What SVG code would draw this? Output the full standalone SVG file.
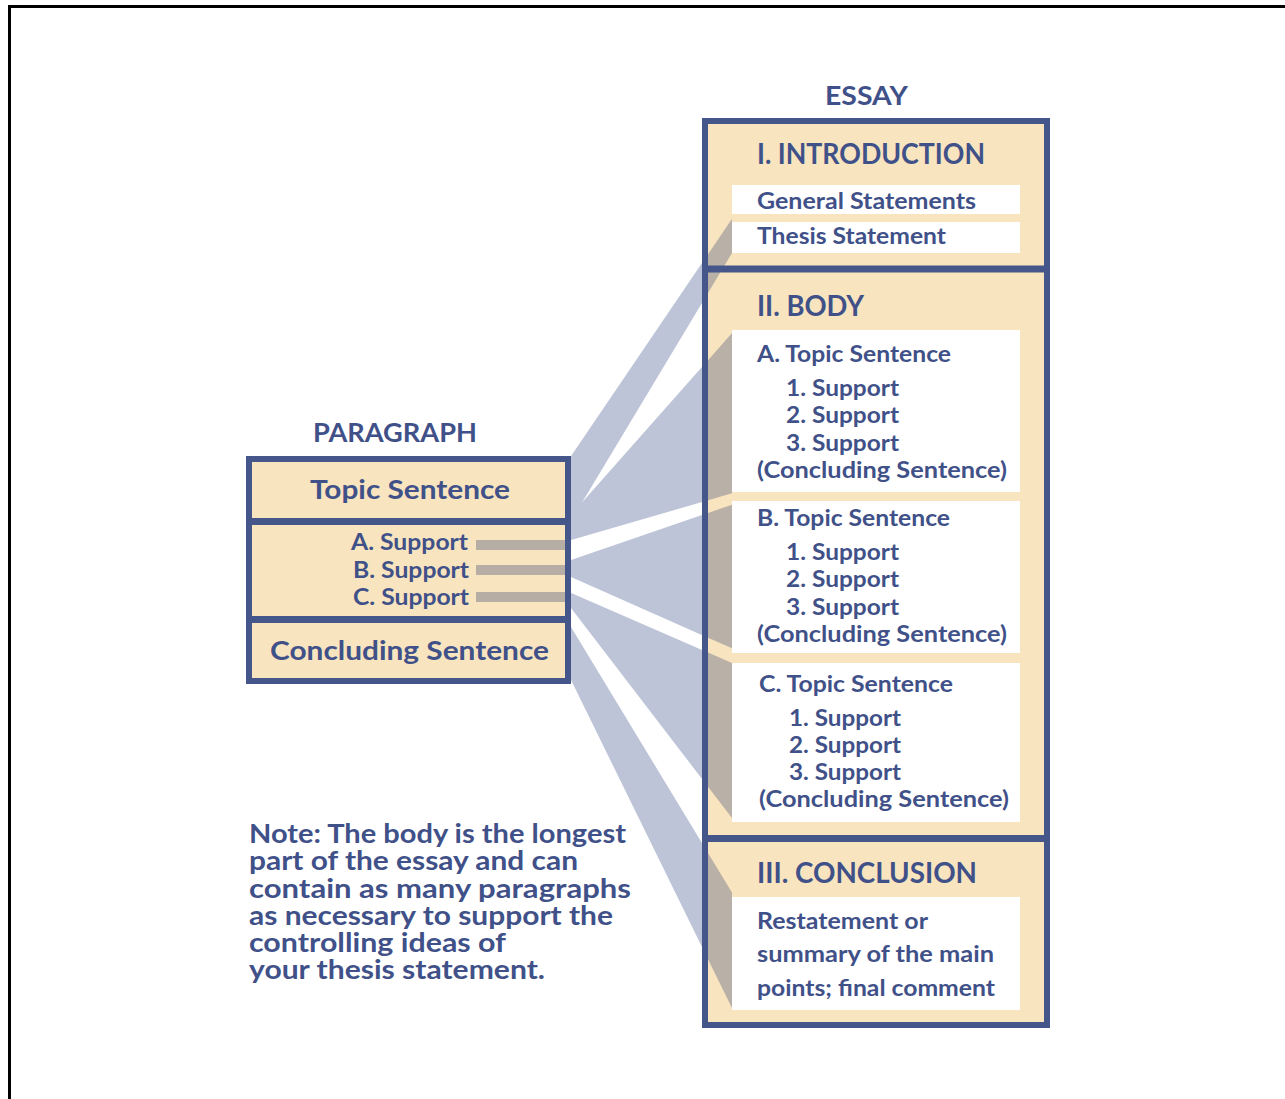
<svg xmlns="http://www.w3.org/2000/svg" xmlns:xlink="http://www.w3.org/1999/xlink" width="1285" height="1099" viewBox="0 0 1285 1099">
<defs>
<style>
text { font-family: Lato, "Open Sans", "Liberation Sans", sans-serif; font-weight: 700; fill: #3f5188; }
.h { font-size: 28px; }
.t { font-size: 22px; }
.n { font-size: 26px; }
.beige { fill: #f8e4bf; }
.white { fill: #ffffff; }
.bar { fill: #b6aea4; }
.border { fill: none; stroke: #44568a; stroke-width: 6; }
.div { stroke: #44568a; stroke-width: 7; }
</style>
<polygon id="fan" points="566,463.4 740,207 740,1024.4 566,669.8"/>
<g id="gaps">
<polygon points="582.2,502.3 740,239.8 740,324"/>
<polygon points="566,541.5 740,491 740,501.9 566,561.7"/>
<polygon points="566,574.8 740,651.9 740,666.5 566,590.8"/>
<polygon points="566,601.5 740,828.5 740,905.7 566,618.8"/>
</g>
<clipPath id="margin"><rect x="708" y="124" width="24" height="898"/></clipPath>
</defs>
<rect width="1285" height="1099" fill="#ffffff"/>
<path d="M9.5 1099 V6.5 H1285" fill="none" stroke="#000" stroke-width="3"/>

<g id="connectors">
<use xlink:href="#fan" fill="#bdc4d7"/>
<use xlink:href="#gaps" fill="#ffffff"/>
</g>

<g id="paragraph">
<text x="313" y="442" style="font-size:27px" textLength="164" lengthAdjust="spacingAndGlyphs">PARAGRAPH</text>
<rect x="249" y="459" width="319" height="222" class="beige"/>
<rect x="476" y="540" width="92" height="10" class="bar"/>
<rect x="476" y="565" width="92" height="10" class="bar"/>
<rect x="476" y="592" width="92" height="10" class="bar"/>
<rect x="249" y="459" width="319" height="222" class="border"/>
<line x1="249" y1="521.5" x2="568" y2="521.5" class="div"/>
<line x1="249" y1="619.5" x2="568" y2="619.5" class="div"/>
<text x="310" y="499" style="font-size:27px" textLength="200" lengthAdjust="spacingAndGlyphs">Topic Sentence</text>
<text x="351" y="550" class="t" textLength="117" lengthAdjust="spacingAndGlyphs">A. Support</text>
<text x="353" y="578" class="t" textLength="116" lengthAdjust="spacingAndGlyphs">B. Support</text>
<text x="353" y="605" class="t" textLength="116" lengthAdjust="spacingAndGlyphs">C. Support</text>
<text x="270" y="660" style="font-size:27px" textLength="279" lengthAdjust="spacingAndGlyphs">Concluding Sentence</text>
</g>

<g id="essay">
<text x="825" y="105" style="font-size:26px" textLength="83" lengthAdjust="spacingAndGlyphs">ESSAY</text>
<rect x="705" y="121" width="342" height="904" class="beige"/>
<g clip-path="url(#margin)">
<use xlink:href="#fan" fill="#b9b1a7"/>
<use xlink:href="#gaps" fill="#f8e4bf"/>
</g>
<rect x="732" y="185" width="288" height="29" class="white"/>
<rect x="732" y="222" width="288" height="31" class="white"/>
<rect x="732" y="330" width="288" height="162" class="white"/>
<rect x="732" y="501" width="288" height="152" class="white"/>
<rect x="732" y="663" width="288" height="159" class="white"/>
<rect x="732" y="897" width="288" height="113" class="white"/>
<rect x="705" y="121" width="342" height="904" class="border"/>
<line x1="705" y1="269" x2="1047" y2="269" class="div"/>
<line x1="705" y1="838.5" x2="1047" y2="838.5" class="div"/>

<text x="757" y="164" class="h" textLength="228" lengthAdjust="spacingAndGlyphs">I. INTRODUCTION</text>
<text x="757" y="209" class="t" textLength="219" lengthAdjust="spacingAndGlyphs">General Statements</text>
<text x="757" y="244" class="t" textLength="189" lengthAdjust="spacingAndGlyphs">Thesis Statement</text>

<text x="757" y="316" class="h" textLength="107" lengthAdjust="spacingAndGlyphs">II. BODY</text>
<text x="757" y="362" class="t" textLength="194" lengthAdjust="spacingAndGlyphs">A. Topic Sentence</text>
<text x="786" y="396" class="t" textLength="113" lengthAdjust="spacingAndGlyphs">1. Support</text>
<text x="786" y="423" class="t" textLength="113" lengthAdjust="spacingAndGlyphs">2. Support</text>
<text x="786" y="451" class="t" textLength="113" lengthAdjust="spacingAndGlyphs">3. Support</text>
<text x="757" y="478" class="t" textLength="250" lengthAdjust="spacingAndGlyphs">(Concluding Sentence)</text>

<text x="757" y="526" class="t" textLength="193" lengthAdjust="spacingAndGlyphs">B. Topic Sentence</text>
<text x="786" y="560" class="t" textLength="113" lengthAdjust="spacingAndGlyphs">1. Support</text>
<text x="786" y="587" class="t" textLength="113" lengthAdjust="spacingAndGlyphs">2. Support</text>
<text x="786" y="615" class="t" textLength="113" lengthAdjust="spacingAndGlyphs">3. Support</text>
<text x="757" y="642" class="t" textLength="250" lengthAdjust="spacingAndGlyphs">(Concluding Sentence)</text>

<text x="759" y="692" class="t" textLength="194" lengthAdjust="spacingAndGlyphs">C. Topic Sentence</text>
<text x="789" y="726" class="t" textLength="112" lengthAdjust="spacingAndGlyphs">1. Support</text>
<text x="789" y="753" class="t" textLength="112" lengthAdjust="spacingAndGlyphs">2. Support</text>
<text x="789" y="780" class="t" textLength="112" lengthAdjust="spacingAndGlyphs">3. Support</text>
<text x="759" y="807" class="t" textLength="250" lengthAdjust="spacingAndGlyphs">(Concluding Sentence)</text>

<text x="757" y="883" class="h" textLength="220" lengthAdjust="spacingAndGlyphs">III. CONCLUSION</text>
<text x="757" y="929" class="t" textLength="171" lengthAdjust="spacingAndGlyphs">Restatement or</text>
<text x="757" y="962" class="t" textLength="237" lengthAdjust="spacingAndGlyphs">summary of the main</text>
<text x="757" y="996" class="t" textLength="238" lengthAdjust="spacingAndGlyphs">points; final comment</text>
</g>

<g id="note">
<text x="249" y="843" class="n" textLength="377" lengthAdjust="spacingAndGlyphs">Note: The body is the longest</text>
<text x="249" y="870" class="n" textLength="329" lengthAdjust="spacingAndGlyphs">part of the essay and can</text>
<text x="249" y="898" class="n" textLength="382" lengthAdjust="spacingAndGlyphs">contain as many paragraphs</text>
<text x="249" y="925" class="n" textLength="364" lengthAdjust="spacingAndGlyphs">as necessary to support the</text>
<text x="249" y="952" class="n" textLength="257" lengthAdjust="spacingAndGlyphs">controlling ideas of</text>
<text x="249" y="979" class="n" textLength="296" lengthAdjust="spacingAndGlyphs">your thesis statement.</text>
</g>
</svg>
